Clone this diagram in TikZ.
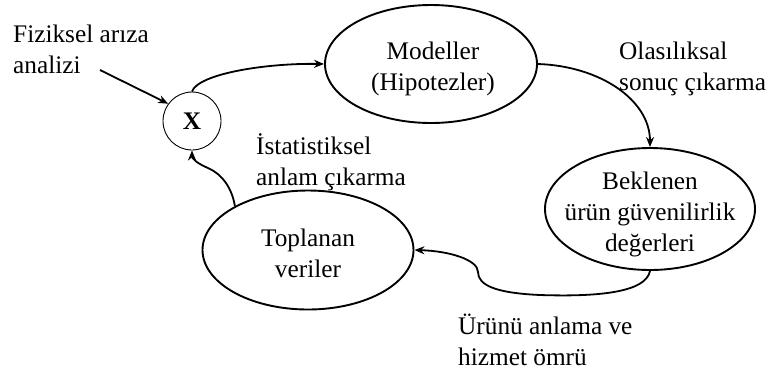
\documentclass[tikz,border=0pt]{standalone}
\usepackage{fontspec}
\setmainfont{Liberation Serif}
\usetikzlibrary{shapes.geometric,arrows.meta}
\begin{document}
\begin{tikzpicture}[x=1pt,y=-1pt,
  every node/.style={font=\fontsize{25.3}{31}\selectfont},
  oval/.style={draw,ellipse,line width=1.9pt,inner sep=0pt},
  txt/.style={align=center,inner sep=0pt},
  lbl/.style={anchor=west,align=left,inner sep=0pt},
  arr/.style={line width=1.8pt,-{Stealth[length=10pt,width=8pt]}}]
\useasboundingbox (0,0) rectangle (770,376);
\node[draw,circle,line width=0.9pt,minimum size=58pt,inner sep=0pt] (x) at (192,121) {\textbf{X}};
\node[oval,minimum width=212pt,minimum height=118pt] (mod) at (431,64) {};
\node[txt] (modt) at (433,69) {Modeller\\(Hipotezler)};
\node[oval,minimum width=210pt,minimum height=122pt] (bek) at (650,209) {};
\node[txt] (bekt) at (650,214) {Beklenen\\ürün güvenilirlik\\değerleri};
\node[oval,minimum width=211pt,minimum height=119pt] (top) at (308,250) {};
\node[txt] (topt) at (308,253) {Toplanan\\veriler};
\node[lbl] (fiz) at (13,49) {Fiziksel arıza\\analizi};
\node[lbl] (ola) at (619,69) {Olasılıksal\\sonuç çıkarma};
\node[lbl] (ist) at (256,162) {İstatistiksel\\anlam çıkarma};
\node[lbl] (urun) at (458,340) {Ürünü anlama ve\\hizmet ömrü};
\coordinate (fizend) at (100,70);
\draw[arr] (fizend) -- (x.144);
\draw[arr] (x.north) .. controls (198,74) and (265,63) .. (mod.west);
\draw[arr] (mod.east) .. controls (600,66) and (650,100) .. (bek.north);
\draw[arr] (bek.south) .. controls (646,292) and (600,297) .. (540,295)
  .. controls (495,293) and (478,285) .. (478,272)
  .. controls (478,260) and (450,251) .. (top.east);
\draw[arr] (top.149) .. controls (232,188) and (222,174) .. (208,168)
  .. controls (196,163) and (192,158) .. (x.south);
\end{tikzpicture}
\end{document}
